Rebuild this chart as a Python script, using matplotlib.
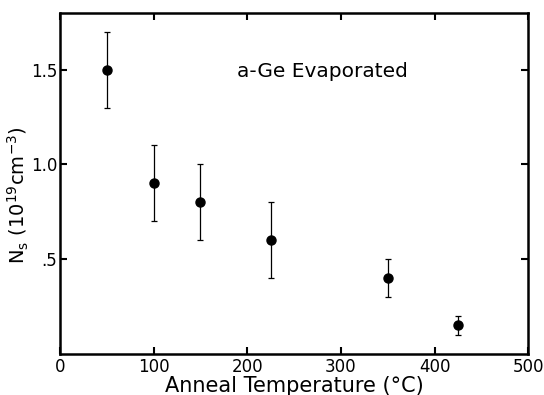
import matplotlib
matplotlib.use("Agg")
import matplotlib.pyplot as plt

temps = [50, 100, 150, 225, 350, 425]
ns = [1.5, 0.9, 0.8, 0.6, 0.4, 0.15]
err_lo = [0.2, 0.2, 0.2, 0.2, 0.1, 0.05]
err_hi = [0.2, 0.2, 0.2, 0.2, 0.1, 0.05]
xticks = [0, 100, 200, 300, 400, 500]
xticklabels = ["0", "100", "200", "300", "400", "500"]
yticks = [0.5, 1.0, 1.5]
yticklabels = [".5", "1.0", "1.5"]

plt.rcParams['font.family'] = ['DejaVu Sans']
fig = plt.figure(figsize=(5.44, 3.95), dpi=100)
ax = fig.add_axes([0.110, 0.105, 0.861, 0.862])
ax.errorbar(temps, ns, yerr=[err_lo, err_hi], fmt='o', color='black',
            ms=6.5, elinewidth=0.9, capsize=2.5, capthick=0.9)
ax.set_xlim(0, 500)
ax.set_ylim(0, 1.8)
ax.set_xticks(xticks)
ax.set_xticklabels(xticklabels)
ax.set_yticks(yticks)
ax.set_yticklabels(yticklabels)
ax.tick_params(direction='in', length=5, width=1.5, labelsize=12,
               top=True, right=True)
ax.tick_params(axis='y', pad=2)
for s in ax.spines.values():
    s.set_linewidth(1.8)
ax.set_xlabel("Anneal Temperature (°C)", fontsize=15, labelpad=0)
ax.set_ylabel(r"N$_\mathregular{s}$ (10$^\mathregular{19}$cm$^\mathregular{-3}$)", fontsize=14)
ax.yaxis.set_label_coords(-0.062, 0.466)
ax.text(189, 1.49, "a-Ge Evaporated", fontsize=14.5, va='center', ha='left')
fig.savefig("out.png", dpi=100)
